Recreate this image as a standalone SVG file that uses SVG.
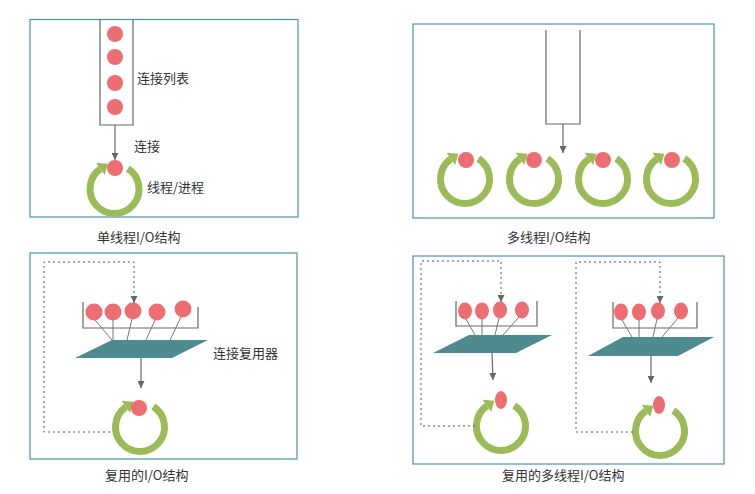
<svg xmlns="http://www.w3.org/2000/svg" width="755" height="494" viewBox="0 0 755 494">
<style>
.box{fill:none;stroke:#4a93a8;stroke-width:1.2}
.ln{fill:none;stroke:#666;stroke-width:1.2}
.thin{fill:none;stroke:#777;stroke-width:1}
.dot{fill:none;stroke:#555;stroke-width:1;stroke-dasharray:2 3}
.red{fill:#ec6e72}
.plat{fill:#4f8a8f}
.t{font-family:"Microsoft YaHei","Noto Sans CJK SC",sans-serif;font-size:13px;fill:#333}
</style>
<defs>
<marker id="ah" viewBox="0 0 10 10" refX="10" refY="5" markerWidth="7" markerHeight="7" markerUnits="userSpaceOnUse" orient="auto">
<path d="M0,0 L10,5 L0,10 z" fill="#666"/>
</marker>
<g id="ring">
<path d="M13.34,-20.55 A24.5,24.5 0 1 1 -14.05,-20.07" fill="none" stroke="#9bbb59" stroke-width="7"/>
<polygon points="-6.7,-25.2 -18.4,-26.2 -9.8,-13.9" fill="#9bbb59"/>
</g>
</defs>

<!-- Panel 1 -->
<g id="panel1">
<rect class="box" x="30" y="19.5" width="268" height="197.5"/>
<g id="list1">
<path class="ln" d="M100,20 V125 H133 V20"/>
<circle class="red" cx="115" cy="34" r="8"/>
<circle class="red" cx="115" cy="57" r="8"/>
<circle class="red" cx="115" cy="83" r="8"/>
<circle class="red" cx="115" cy="107" r="8"/>
</g>
<g id="thread1">
<use href="#ring" x="114.5" y="189"/>
<circle class="red" cx="115" cy="168" r="8"/>
</g>
<text class="t" x="137" y="83">连接列表</text>
<text class="t" x="134" y="151">连接</text>
<text class="t" x="147" y="192">线程/进程</text>
<text class="t" x="97" y="242">单线程I/O结构</text>
</g>

<!-- Panel 2 -->
<g id="panel2">
<rect class="box" x="413" y="24" width="301" height="194"/>
<g id="list2"><path class="ln" d="M546,30 V124 H580 V30"/></g>
<g id="t2a"><use href="#ring" x="465" y="179"/><circle class="red" cx="466" cy="160" r="8"/></g>
<g id="t2b"><use href="#ring" x="534" y="179"/><circle class="red" cx="534" cy="160" r="8"/></g>
<g id="t2c"><use href="#ring" x="603" y="179"/><circle class="red" cx="603" cy="160" r="8"/></g>
<g id="t2d"><use href="#ring" x="671" y="179"/><circle class="red" cx="672" cy="160" r="8"/></g>
<text class="t" x="507" y="242">多线程I/O结构</text>
</g>

<!-- Panel 3 -->
<g id="panel3">
<rect class="box" x="30" y="253" width="267" height="206"/>
<g id="bracket3">
<path class="ln" d="M83,302 V328 H198 V307"/>
<circle class="red" cx="94" cy="312" r="8.5"/>
<circle class="red" cx="113" cy="312" r="8.5"/>
<circle class="red" cx="133" cy="311" r="8.5"/>
<circle class="red" cx="157" cy="312" r="8.5"/>
<circle class="red" cx="183" cy="309" r="8.5"/>
</g>
<g id="mux3">
<polygon class="plat" points="112,340 208,340 172,358 75,358"/>
</g>
<g id="thread3">
<use href="#ring" x="140" y="427"/>
<circle class="red" cx="139" cy="408" r="8"/>
</g>
<text class="t" x="213" y="358">连接复用器</text>
<text class="t" x="105" y="480">复用的I/O结构</text>
</g>

<!-- Panel 4 -->
<g id="panel4">
<rect class="box" x="413" y="256" width="311" height="208"/>
<g id="bracket4a">
<path class="ln" d="M456,301 V326 H537 V301"/>
<ellipse class="red" cx="465" cy="311" rx="7" ry="8.5"/>
<ellipse class="red" cx="482" cy="311" rx="7" ry="8.5"/>
<ellipse class="red" cx="500" cy="310" rx="7" ry="8.5"/>
<ellipse class="red" cx="522" cy="310" rx="7" ry="8.5"/>
</g>
<g id="mux4a"><polygon class="plat" points="469,335 552,335 516,353 433,353"/></g>
<g id="thread4a">
<use href="#ring" x="501" y="426"/>
<ellipse class="red" cx="501" cy="400" rx="6" ry="9"/>
</g>
<g id="bracket4b">
<path class="ln" d="M613,302 V328 H697 V302"/>
<ellipse class="red" cx="621" cy="312" rx="7" ry="8.5"/>
<ellipse class="red" cx="639" cy="312" rx="7" ry="8.5"/>
<ellipse class="red" cx="658" cy="311" rx="7" ry="8.5"/>
<ellipse class="red" cx="681" cy="311" rx="7" ry="8.5"/>
</g>
<g id="mux4b"><polygon class="plat" points="623,337 714,337 678,356 588,356"/></g>
<g id="thread4b">
<use href="#ring" x="660" y="431"/>
<ellipse class="red" cx="659" cy="405" rx="6" ry="9"/>
</g>
<text class="t" x="502" y="480">复用的多线程I/O结构</text>
</g>

<!-- Connectors -->
<g id="connectors">
<line class="ln" x1="115" y1="125" x2="115" y2="160" marker-end="url(#ah)"/>
<line class="ln" x1="563" y1="124" x2="563" y2="153" marker-end="url(#ah)"/>
<!-- panel 3 -->
<line class="thin" x1="95" y1="320" x2="112" y2="340"/>
<line class="thin" x1="113" y1="320" x2="113" y2="340"/>
<line class="thin" x1="132" y1="319" x2="127" y2="340"/>
<line class="thin" x1="155" y1="320" x2="146" y2="340"/>
<line class="thin" x1="181" y1="317" x2="170" y2="340"/>
<line class="ln" x1="141" y1="358" x2="141" y2="388" marker-end="url(#ah)"/>
<path class="dot" d="M110,432 H44 V262 H134 V296"/>
<line class="ln" x1="134" y1="296" x2="134" y2="303" marker-end="url(#ah)"/>
<!-- panel 4 left -->
<line class="thin" x1="466" y1="319" x2="475" y2="335"/>
<line class="thin" x1="482" y1="319" x2="482" y2="335"/>
<line class="thin" x1="499" y1="318" x2="495" y2="335"/>
<line class="thin" x1="519" y1="317" x2="503" y2="335"/>
<line class="ln" x1="492" y1="353" x2="493" y2="380" marker-end="url(#ah)"/>
<path class="dot" d="M475,426 H421 V261 H501 V295"/>
<line class="ln" x1="501" y1="295" x2="501" y2="302" marker-end="url(#ah)"/>
<!-- panel 4 right -->
<line class="thin" x1="622" y1="320" x2="632" y2="337"/>
<line class="thin" x1="639" y1="320" x2="639" y2="337"/>
<line class="thin" x1="657" y1="319" x2="653" y2="337"/>
<line class="thin" x1="678" y1="318" x2="662" y2="337"/>
<line class="ln" x1="651" y1="356" x2="651" y2="383" marker-end="url(#ah)"/>
<path class="dot" d="M633,432 H576 V262 H660 V296"/>
<line class="ln" x1="660" y1="296" x2="660" y2="303" marker-end="url(#ah)"/>
</g>
</svg>
